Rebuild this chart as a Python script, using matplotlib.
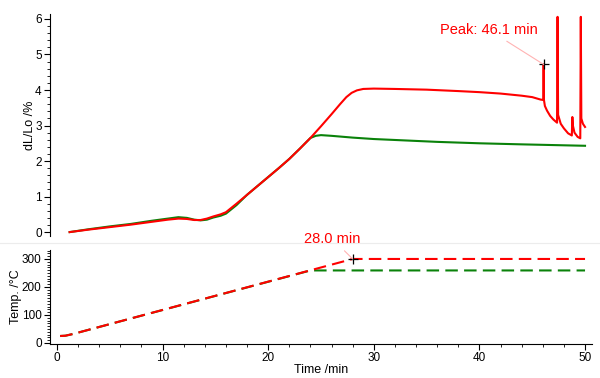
import matplotlib
matplotlib.use("Agg")
import matplotlib.pyplot as plt
from matplotlib.ticker import MultipleLocator, AutoMinorLocator
from matplotlib.lines import Line2D

plt.rcParams['font.family'] = ['Liberation Sans', 'DejaVu Sans']

# dL/Lo curves (red = sample A, green = sample B)
time_dl_red = [1.2, 3, 5, 7, 9, 10.5, 11.5, 12.3, 13.0, 13.6, 14.2, 14.8, 15.5, 16.0,
               17, 18, 19, 20, 21, 22, 23, 24, 25, 26, 26.8, 27.4, 27.9, 28.4, 29, 30, 32, 35,
               38, 40, 42, 44, 45, 45.8, 46.05, 46.08, 46.11, 46.2, 46.4, 46.7, 47.0,
               47.35, 47.4, 47.45, 47.7, 48.0, 48.4, 48.75, 48.8, 48.85, 49.0, 49.3,
               49.55, 49.6, 49.65, 49.8, 50.0]
dl_red = [0.00, 0.07, 0.14, 0.21, 0.29, 0.35, 0.38, 0.37, 0.34, 0.34, 0.38, 0.44, 0.50, 0.56,
          0.80, 1.05, 1.30, 1.55, 1.80, 2.06, 2.35, 2.65, 2.98, 3.32, 3.60, 3.80, 3.92, 3.99, 4.03, 4.04, 4.03, 4.01,
          3.97, 3.94, 3.90, 3.84, 3.80, 3.73, 3.72, 4.72, 3.72, 3.55, 3.42, 3.27, 3.17,
          3.08, 6.06, 3.30, 3.05, 2.92, 2.78, 2.72, 3.24, 3.00, 2.80, 2.68,
          2.64, 6.06, 3.20, 3.05, 2.96]

time_dl_green = [1.2, 3, 5, 7, 9, 10.5, 11.5, 12.3, 13.0, 13.6, 14.2, 14.8, 15.5, 16.0,
                 17, 18, 19, 20, 21, 22, 23, 24, 24.5, 25, 26, 28, 30, 33, 36, 40, 44, 47, 50]
dl_green = [0.00, 0.08, 0.16, 0.23, 0.32, 0.38, 0.42, 0.40, 0.35, 0.33, 0.35, 0.41, 0.46, 0.52,
            0.76, 1.05, 1.30, 1.55, 1.80, 2.06, 2.35, 2.65, 2.71, 2.73, 2.71, 2.66, 2.62, 2.58, 2.54,
            2.50, 2.47, 2.45, 2.43]

# temperature programs
time_temp_red = [0.3, 0.8, 1.5, 28.0, 50]
temp_red = [25, 26, 32, 300, 300]
time_temp_green = [0.3, 0.8, 1.5, 24.0, 50]
temp_green = [25, 26, 32, 259, 259]

peak_time, peak_dl = 46.08, 4.72
ramp_end_time, ramp_end_temp = 28.0, 300

RED = '#ff0000'
GREEN = '#0a820a'
PINK = '#ffb3b3'

fig = plt.figure(figsize=(6, 3.78), dpi=100)
ax1 = fig.add_axes([50 / 600, 1 - 236 / 378, 542 / 600, 222 / 378])
ax2 = fig.add_axes([50 / 600, 1 - 344 / 378, 542 / 600, 94 / 378], sharex=ax1)

ax1.plot(time_dl_green, dl_green, color=GREEN, lw=1.5)
ax1.plot(time_dl_red, dl_red, color=RED, lw=1.5)
ax1.plot([peak_time], [peak_dl], marker='+', color='black', ms=7, mew=0.9)
ax1.annotate('Peak: 46.1 min', xy=(peak_time, peak_dl), xytext=(40.9, 5.69),
             ha='center', va='center', color=RED, fontsize=10.5,
             arrowprops=dict(arrowstyle='-', color=PINK, lw=0.8, shrinkA=2, shrinkB=0))

ax2.plot(time_temp_green, temp_green, color=GREEN, lw=1.5, dashes=[6, 3])
ax2.plot(time_temp_red, temp_red, color=RED, lw=1.5, dashes=[6, 3])
ax2.plot([ramp_end_time], [ramp_end_temp], marker='+', color='black', ms=7, mew=0.9)
ax2.annotate('28.0 min', xy=(ramp_end_time, ramp_end_temp), xytext=(26.1, 371),
             ha='center', va='center', color=RED, fontsize=10.5, annotation_clip=False,
             arrowprops=dict(arrowstyle='-', color=PINK, lw=0.8, shrinkA=2, shrinkB=0))

ax1.set_xlim(-0.66, 50.66)
ax1.set_ylim(-0.11, 6.14)
ax2.set_ylim(-3.6, 332)

for ax in (ax1, ax2):
    ax.spines['top'].set_visible(False)
    ax.spines['right'].set_visible(False)
    ax.patch.set_alpha(0)
ax1.spines['bottom'].set_visible(False)

ax1.yaxis.set_major_locator(MultipleLocator(1))
ax1.yaxis.set_minor_locator(AutoMinorLocator(5))
ax2.yaxis.set_major_locator(MultipleLocator(100))
ax2.yaxis.set_minor_locator(AutoMinorLocator(10))
ax2.xaxis.set_major_locator(MultipleLocator(10))
ax2.xaxis.set_minor_locator(MultipleLocator(2))

ax1.tick_params(axis='x', which='both', bottom=False, labelbottom=False)
for ax in (ax1, ax2):
    ax.tick_params(axis='both', which='major', direction='out', length=4, width=0.8,
                   labelsize=8.5, pad=2)
    ax.tick_params(axis='both', which='minor', direction='out', length=2, width=0.6)

ax1.set_ylabel('dL/Lo /%', fontsize=9, labelpad=-1)
ax2.set_ylabel('Temp. /°C', fontsize=9, labelpad=0)
ax2.set_xlabel('Time /min', fontsize=9, labelpad=0)

fig.add_artist(Line2D([0, 1], [1 - 243 / 378, 1 - 243 / 378], color='#ececec', lw=0.8,
                      transform=fig.transFigure))

fig.savefig('out.png', dpi=100)
